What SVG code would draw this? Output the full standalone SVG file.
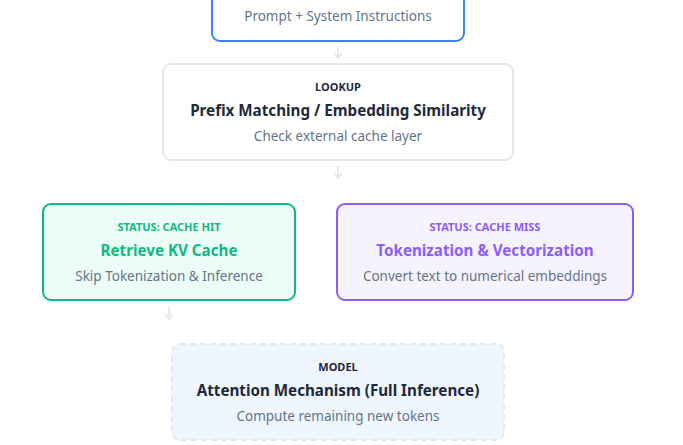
<svg xmlns="http://www.w3.org/2000/svg" width="683" height="445" viewBox="0 0 683 445">
<style>
text{font-family:"Noto Sans","Open Sans","DejaVu Sans",sans-serif;text-anchor:middle}
.lbl{font-size:11px;font-weight:700;fill:#1e293b}
.ttl{font-size:15.2px;font-weight:700;fill:#1e293b}
.sub{font-size:13.5px;fill:#64748b}
.box{stroke-width:2}
.conn{stroke:#e2e8f0;stroke-width:2;fill:none}
</style>
<defs>
<marker id="ah" viewBox="0 0 10 10" refX="5" refY="5" markerWidth="5" markerHeight="5" orient="auto">
<path d="M0,1 L5,5 L0,9" fill="none" stroke="#e2e8f0" stroke-width="2"/>
</marker>
</defs>
<rect width="683" height="445" fill="#ffffff"/>
<g id="connectors">
<line class="conn" x1="338" y1="47" x2="338" y2="58" marker-end="url(#ah)"/>
<line class="conn" x1="338" y1="166" x2="338" y2="178" marker-end="url(#ah)"/>
<line class="conn" x1="169" y1="307" x2="169" y2="319" marker-end="url(#ah)"/>
</g>
<g id="prompt">
<rect class="box" x="212" y="-20" width="252" height="61" rx="8" fill="#ffffff" stroke="#3b82f6"/>
<text class="sub" x="338" y="21">Prompt + System Instructions</text>
</g>
<g id="lookup">
<rect class="box" x="163" y="64" width="350" height="96" rx="8" fill="#ffffff" stroke="#e2e8f0"/>
<text class="lbl" x="338" y="91">LOOKUP</text>
<text class="ttl" x="338" y="116">Prefix Matching / Embedding Similarity</text>
<text class="sub" x="338" y="141">Check external cache layer</text>
</g>
<g id="hit">
<rect class="box" x="43" y="204" width="252" height="96" rx="8" fill="#ecfdf5" stroke="#10b981"/>
<text class="lbl" x="169" y="231" style="fill:#10b981">STATUS: CACHE HIT</text>
<text class="ttl" x="169" y="256" style="fill:#10b981">Retrieve KV Cache</text>
<text class="sub" x="169" y="281">Skip Tokenization &amp; Inference</text>
</g>
<g id="miss">
<rect class="box" x="337" y="204" width="296" height="96" rx="8" fill="#f5f3ff" stroke="#8b5cf6"/>
<text class="lbl" x="485" y="231" style="fill:#8b5cf6">STATUS: CACHE MISS</text>
<text class="ttl" x="485" y="256" style="fill:#8b5cf6">Tokenization &amp; Vectorization</text>
<text class="sub" x="485" y="281">Convert text to numerical embeddings</text>
</g>
<g id="model">
<rect class="box" x="172" y="344" width="332" height="96" rx="8" fill="#eff6ff" stroke="#e2e8f0" stroke-dasharray="6 4"/>
<text class="lbl" x="338" y="371">MODEL</text>
<text class="ttl" x="338" y="396">Attention Mechanism (Full Inference)</text>
<text class="sub" x="338" y="421">Compute remaining new tokens</text>
</g>
</svg>
